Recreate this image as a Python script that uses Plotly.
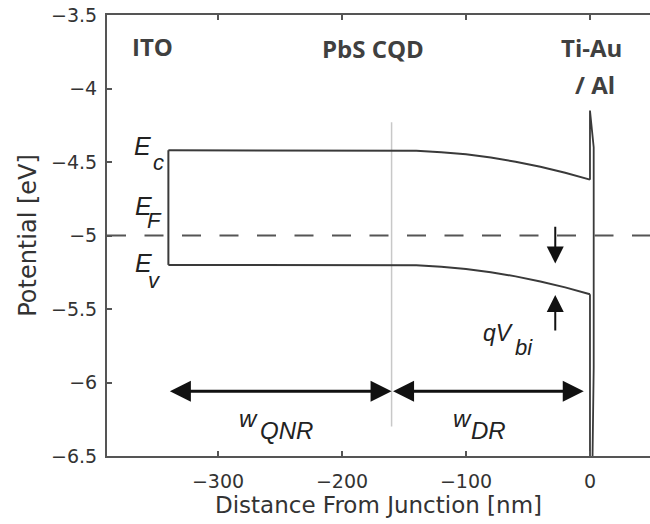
import plotly.graph_objects as go

# Band diagram of an ITO / PbS CQD / Ti-Au (Al) Schottky device
x_band = [-340, -300, -250, -200, -160, -140, -120, -100, -80, -60, -40, -20, 0]
E_c = [-4.42, -4.42, -4.42, -4.42, -4.42, -4.423, -4.433, -4.448, -4.470, -4.498, -4.533, -4.573, -4.62]
E_v = [-5.20, -5.20, -5.20, -5.20, -5.20, -5.203, -5.213, -5.228, -5.250, -5.278, -5.313, -5.353, -5.40]
E_F = -5.0

# metal contact at the junction
contact_x = [0, 0, 3, 3, 2]
contact_y = [-4.62, -4.15, -4.40, -5.90, -6.55]
contact_v_y = [-5.40, -6.55]

# edge of the depletion region
x_dr_edge = -160
dr_edge_y = [-4.23, -6.30]

# dimension arrows
arrow_y = -6.06
x_qnr = [-340, -160]
x_dr = [-160, -5]
vbi_x = -28
vbi_down = [-4.93, -5.19]
vbi_up = [-5.657, -5.405]

x_ticks = [-300, -200, -100, 0]
x_tick_text = ["\u2212300", "\u2212200", "\u2212100", "0"]
y_ticks = [-6.5, -6, -5.5, -5, -4.5, -4, -3.5]
y_tick_text = ["\u22126.5", "\u22126", "\u22125.5", "\u22125", "\u22124.5", "\u22124", "\u22123.5"]

line_col = "#3a3a3a"
axis_col = "#555555"
txt_col = "#333333"

fig = go.Figure()

fig.add_trace(go.Scatter(x=[x_dr_edge, x_dr_edge], y=dr_edge_y, mode="lines",
                         line=dict(color="#c8c8c8", width=1.5), hoverinfo="skip"))
fig.add_trace(go.Scatter(x=x_band, y=E_c, mode="lines",
                         line=dict(color=line_col, width=2)))
fig.add_trace(go.Scatter(x=x_band, y=E_v, mode="lines",
                         line=dict(color=line_col, width=2)))
fig.add_trace(go.Scatter(x=[x_band[0], x_band[0]], y=[E_v[0], E_c[0]], mode="lines",
                         line=dict(color=line_col, width=2)))
fig.add_trace(go.Scatter(x=contact_x, y=contact_y, mode="lines",
                         line=dict(color=line_col, width=1.8)))
fig.add_trace(go.Scatter(x=[x_band[-1], x_band[-1]], y=contact_v_y, mode="lines",
                         line=dict(color=line_col, width=1.8)))

# Fermi level
fig.add_shape(type="line", xref="paper", x0=0, x1=1, yref="y", y0=E_F, y1=E_F,
              line=dict(color="#555555", width=2.2, dash="19px,18.5px"))

def arrow(x0, y0, x1, y1, width, size, both=False):
    fig.add_annotation(x=x1, y=y1, ax=x0, ay=y0, xref="x", yref="y", axref="x", ayref="y",
                       text="", showarrow=True, arrowhead=2, arrowsize=size,
                       arrowwidth=width, arrowcolor="#111111",
                       startarrowhead=2, startarrowsize=size,
                       arrowside="end+start" if both else "end")

arrow(x_qnr[0], arrow_y, x_qnr[1], arrow_y, 3, 1.4, both=True)
arrow(x_dr[0], arrow_y, x_dr[1], arrow_y, 3, 1.4, both=True)
arrow(vbi_x, vbi_down[0], vbi_x, vbi_down[1], 2, 1.7)
arrow(vbi_x, vbi_up[0], vbi_x, vbi_up[1], 2, 1.7)

def label(x, y, text, size, bold=False, italic=False, color=txt_col, family="Liberation Sans"):
    if italic:
        text = "<i>" + text + "</i>"
    if bold:
        text = "<b>" + text + "</b>"
    fig.add_annotation(x=x, y=y, xref="x", yref="y", text=text, showarrow=False,
                       xanchor="center", yanchor="middle",
                       font=dict(family=family, size=size, color=color))

# material labels
label(-353, -3.711, "ITO", 24, bold=True, color="#404040", family="Open Sans")
label(-175, -3.731, "PbS CQD", 24, bold=True, color="#404040", family="Open Sans")
label(1, -3.718, "Ti-Au", 24, bold=True, color="#404040", family="Open Sans")
label(4, -3.976, "/ Al", 24, bold=True, color="#404040", family="Open Sans")

# band labels
label(-360.5, -4.391, "E", 25, italic=True, color="#222222")
label(-347.6, -4.50, "c", 22, italic=True, color="#222222")
label(-359.7, -4.80, "E", 25, italic=True, color="#222222")
label(-350.8, -4.90, "F", 22, italic=True, color="#222222")
label(-359.7, -5.187, "E", 25, italic=True, color="#222222")
label(-350.8, -5.303, "v", 22, italic=True, color="#222222")

# built-in potential
label(-73.4, -5.66, "qV", 23, italic=True, color="#222222")
label(-53.5, -5.759, "bi", 22, italic=True, color="#222222")

# region widths
label(-275.4, -6.245, "w", 24, italic=True, color="#222222")
label(-245, -6.327, "QNR", 24, italic=True, color="#222222")
label(-102.8, -6.245, "w", 24, italic=True, color="#222222")
label(-82, -6.327, "DR", 24, italic=True, color="#222222")

fig.update_layout(
    width=650, height=524,
    margin=dict(l=107, r=0, t=15, b=68),
    paper_bgcolor="white", plot_bgcolor="white",
    showlegend=False,
    font=dict(family="DejaVu Sans", color=txt_col),
    xaxis=dict(range=[-389.5, 48.4], tickvals=x_ticks, ticktext=x_tick_text,
               ticks="inside", ticklen=5, tickwidth=1.5, tickcolor=axis_col,
               showline=True, linecolor=axis_col, linewidth=2, mirror="ticks",
               showgrid=False, zeroline=False, ticklabelstandoff=7,
               tickfont=dict(size=19, color=txt_col),
               title=dict(text="Distance From Junction [nm]", font=dict(size=23, color=txt_col),
                          standoff=2)),
    yaxis=dict(range=[-6.5, -3.5], tickvals=y_ticks, ticktext=y_tick_text,
               ticks="inside", ticklen=5, tickwidth=1.5, tickcolor=axis_col,
               showline=True, linecolor=axis_col, linewidth=2, mirror=False,
               showgrid=False, zeroline=False, ticklabelstandoff=4,
               tickfont=dict(size=19, color=txt_col),
               title=dict(text="Potential [eV]", font=dict(size=24, color=txt_col),
                          standoff=8)),
)

fig.write_html("out.html")
